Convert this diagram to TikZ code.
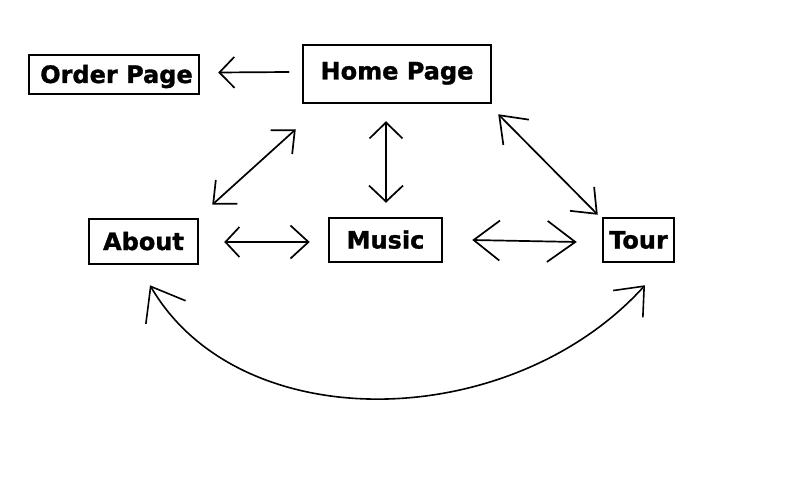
\documentclass[tikz,border=0pt]{standalone}
\usepackage{fontspec}
\setmainfont{DejaVu Sans}[BoldFeatures={FakeBold=1.3}]
\usetikzlibrary{arrows.meta}
\begin{document}
\begin{tikzpicture}[x=1pt,y=-1pt,
  box/.style={draw, line width=2.5pt, inner sep=0pt,
    font=\fontsize{24}{28}\selectfont\bfseries,
    text height=17pt, text depth=0pt, anchor=center},
  conn/.style={line width=1.7pt, line cap=round},
  curveconn/.style={line width=1.6pt, line cap=round},
]
\useasboundingbox (0,0) rectangle (800,500);
\fill[white] (0,0) rectangle (800,500);

\node[box, minimum width=170pt, minimum height=39pt] (order) at (114,74.5) {\hspace*{5pt}Order Page};
\node[box, minimum width=188pt, minimum height=58pt, text depth=6pt] (home) at (397,74) {Home Page};
\node[box, minimum width=109pt, minimum height=45pt] (about) at (143.5,241.5) {About};
\node[box, minimum width=113pt, minimum height=44pt] (music) at (385.5,240) {Music};
\node[box, minimum width=71pt, minimum height=44pt] (tour) at (638.5,240) {Tour};

% Home -> Order
\draw[conn, -{Straight Barb[length=15pt,width=31pt]}]
  ([xshift=-13pt,yshift=2pt]home.west) -- ([xshift=18pt,yshift=2pt]order.east);

% Home <-> About
\draw[conn, {Straight Barb[length=18pt,width=32pt]}-{Straight Barb[length=18pt,width=32pt]}]
  ([xshift=-6pt,yshift=-25pt]home.south west) -- ([xshift=13pt,yshift=13pt]about.north east);

% Home <-> Music
\draw[conn, {Straight Barb[length=16pt,width=33pt]}-{Straight Barb[length=16pt,width=34pt]}]
  ([xshift=-11pt,yshift=-17pt]home.south) -- ([xshift=0.5pt,yshift=14pt]music.north);

% Home <-> Tour
\draw[conn, {Straight Barb[length=24pt,width=36pt]}-{Straight Barb[length=21pt,width=34pt]}]
  ([xshift=6pt,yshift=-10pt]home.south east) -- ([xshift=-4pt,yshift=2pt]tour.north west);

% About <-> Music
\draw[conn, {Straight Barb[length=14pt,width=30pt]}-{Straight Barb[length=18pt,width=33pt]}]
  ([xshift=25pt,yshift=-0.5pt]about.east) -- ([xshift=-18pt,yshift=-2pt]music.west);

% Music <-> Tour
\draw[conn, {Straight Barb[length=26pt,width=40pt]}-{Straight Barb[length=28pt,width=41pt]}]
  ([xshift=29pt]music.east) -- ([xshift=-25pt,yshift=-2pt]tour.west);

% About <-> Tour (curve)
\draw[curveconn, {Straight Barb[length=30pt,width=46pt]}-{Straight Barb[length=24pt,width=40pt]}]
  ([xshift=6.5pt,yshift=-20pt]about.south) .. controls (240,440) and (511,433) .. ([xshift=6.5pt,yshift=-22pt]tour.south);
\end{tikzpicture}
\end{document}
